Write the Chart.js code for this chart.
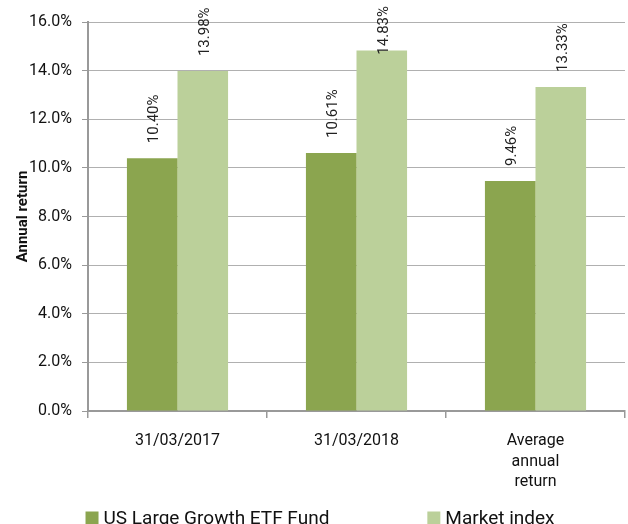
<!DOCTYPE html>
<html>
<head>
<meta charset="utf-8">
<script src="https://cdn.jsdelivr.net/npm/chart.js@4"></script>
<style>
  html, body { margin: 0; padding: 0; background: #fff; overflow: hidden; }
  #wrap { width: 628px; height: 540px; position: relative; }
</style>
</head>
<body>
<div id="wrap"><canvas id="returnsChart"></canvas></div>
<script>
// Datos del gráfico
const categories = ['31/03/2017', '31/03/2018', ['Average', 'annual', 'return']];
const fundReturns = [10.40, 10.61, 9.46];
const marketReturns = [13.98, 14.83, 13.33];
const yTicks = [0, 2, 4, 6, 8, 10, 12, 14, 16];

// Etiquetas de valor giradas encima de cada barra (se bajan si no caben arriba)
const valueLabels = {
    id: 'valueLabels',
    afterDatasetsDraw(chart) {
        const ctx = chart.ctx;
        ctx.save();
        ctx.font = '15px Roboto';
        ctx.fillStyle = '#222';
        ctx.textAlign = 'left';
        ctx.textBaseline = 'middle';
        chart.data.datasets.forEach((ds, i) => {
            chart.getDatasetMeta(i).data.forEach((bar, j) => {
                const txt = ds.data[j].toFixed(2) + '%';
                const w = ctx.measureText(txt).width;
                const start = Math.max(bar.y - 15, 6 + w);
                ctx.save();
                ctx.translate(bar.x + 2, start);
                ctx.rotate(-Math.PI / 2);
                ctx.fillText(txt, 0, 0);
                ctx.restore();
            });
        });
        ctx.restore();
    }
};

// Leyenda propia, con mucho espacio entre los dos elementos
const bottomLegend = {
    id: 'bottomLegend',
    afterDraw(chart) {
        const ctx = chart.ctx;
        const box = 13, gapText = 5, gapItems = 98, centerX = 320, y = 518;
        ctx.save();
        ctx.font = '19px Roboto';
        ctx.textBaseline = 'middle';
        ctx.textAlign = 'left';
        const items = chart.data.datasets.map(ds => ({
            text: ds.label,
            color: ds.backgroundColor,
            w: box + gapText + ctx.measureText(ds.label).width
        }));
        const total = items.reduce((s, it) => s + it.w, 0) + gapItems * (items.length - 1);
        let x = centerX - total / 2;
        items.forEach(it => {
            ctx.fillStyle = it.color;
            ctx.fillRect(x, y - box / 2, box, box);
            ctx.fillStyle = '#111';
            ctx.fillText(it.text, x + box + gapText, y + 1);
            x += it.w + gapItems;
        });
        ctx.restore();
    }
};

const ctx = document.getElementById('returnsChart').getContext('2d');
const returnsChart = new Chart(ctx, {
    type: 'bar',
    data: {
        labels: categories,
        datasets: [{
            label: 'US Large Growth ETF Fund',
            data: fundReturns,
            backgroundColor: '#8ba54f',
            categoryPercentage: 0.565,
            barPercentage: 1.0
        }, {
            label: 'Market index',
            data: marketReturns,
            backgroundColor: '#bbd09a',
            categoryPercentage: 0.565,
            barPercentage: 1.0
        }]
    },
    options: {
        responsive: true,
        maintainAspectRatio: false,
        animation: false,
        layout: { padding: { top: 22, left: 14, right: 3, bottom: 40 } },
        plugins: {
            legend: { display: false },
            tooltip: { enabled: false }
        },
        scales: {
            x: {
                grid: { drawOnChartArea: false, drawTicks: true, tickLength: 7, color: '#999', lineWidth: 1.5 },
                border: { color: '#999', width: 2 },
                ticks: {
                    font: { family: 'Roboto', size: 16, lineHeight: 1.28 },
                    color: '#111',
                    padding: 13,
                    maxRotation: 0
                },
                afterFit(scale) { scale.height = 89; }
            },
            y: {
                min: 0,
                max: 16,
                afterBuildTicks(scale) { scale.ticks = yTicks.map(v => ({ value: v })); },
                grid: {
                    color: '#b0b0b0',
                    lineWidth: 1,
                    borderDash: [3, 2],
                    tickLength: 6,
                    tickColor: '#999',
                    tickBorderDash: []
                },
                border: { color: '#999', width: 2 },
                ticks: {
                    font: { family: 'Roboto', size: 16 },
                    color: '#111',
                    padding: 10,
                    callback: v => v.toFixed(1) + '%'
                },
                title: {
                    display: true,
                    text: 'Annual return',
                    font: { family: 'Roboto', size: 15, weight: 'bold' },
                    color: '#111',
                    padding: { top: 0, bottom: 4 }
                },
                afterFit(scale) { scale.width = 74; }
            }
        }
    },
    plugins: [valueLabels, bottomLegend]
});
</script>
</body>
</html>
